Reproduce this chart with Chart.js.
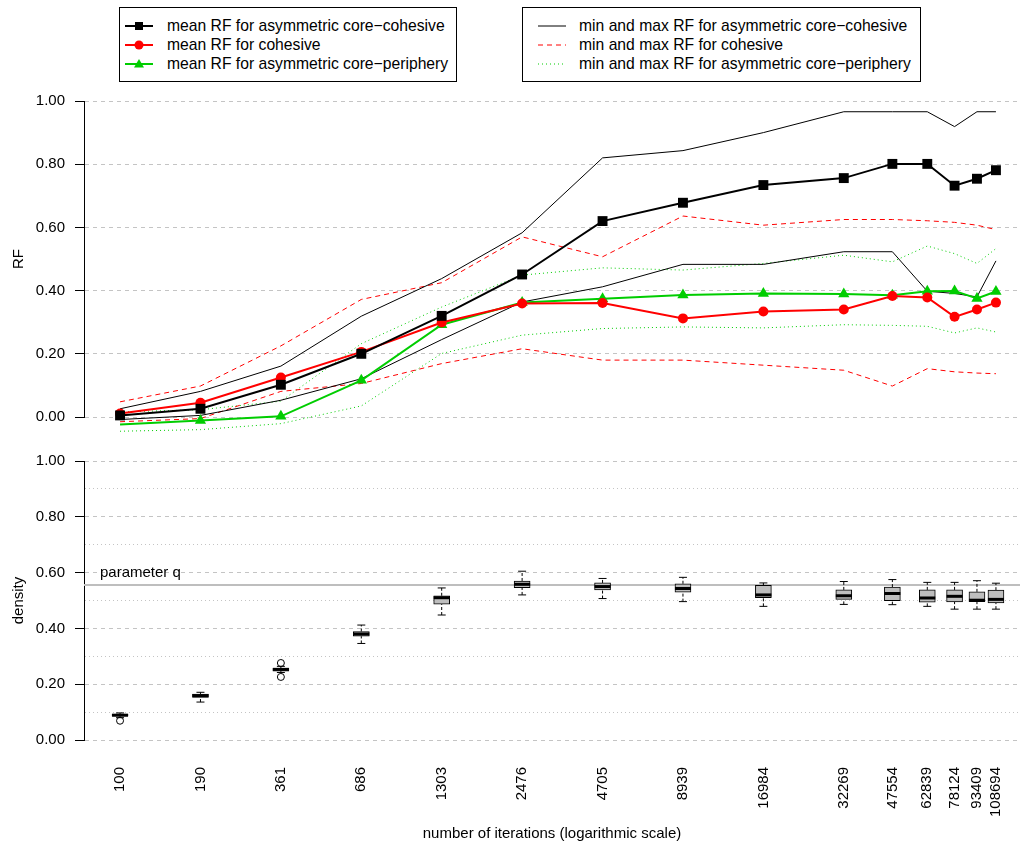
<!DOCTYPE html>
<html>
<head>
<meta charset="utf-8">
<script src="https://cdn.jsdelivr.net/npm/chart.js@4/dist/chart.umd.min.js"></script>
<style>
  body { margin: 0; background: #fff; }
  #wrap { position: relative; width: 1020px; height: 849px; overflow: hidden;
          font-family: "Liberation Sans", Arial, Helvetica, sans-serif; color: #000; }
  canvas { position: absolute; left: 0; }
  .lg { position: absolute; top: 7px; height: 75px; border: 1px solid #000; box-sizing: border-box; background: #fff; }
  .row { position: absolute; height: 18px; line-height: 18px; font-size: 15.7px; white-space: nowrap; }
  .sym { position: absolute; top: 0; width: 30px; height: 18px; }
</style>
</head>
<body>
<div id="wrap">
  <canvas id="top" width="1020" height="445" style="top:0"></canvas>
  <canvas id="bottom" width="1020" height="409" style="top:440px"></canvas>
  <div class="lg" id="lgLeft" style="left:119px;width:338px;"></div>
  <div class="lg" id="lgRight" style="left:522px;width:399px;"></div>
</div>
<script>
// ---------- data ----------
const iterations = [100, 190, 361, 686, 1303, 2476, 4705, 8939, 16984, 32269, 47554, 62839, 78124, 93409, 108694];

const meanCoreCohesive  = [0.005, 0.026, 0.102, 0.200, 0.320, 0.451, 0.620, 0.678, 0.734, 0.756, 0.801, 0.801, 0.732, 0.754, 0.781];
const meanCohesive      = [0.011, 0.045, 0.125, 0.206, 0.299, 0.359, 0.361, 0.312, 0.334, 0.340, 0.383, 0.378, 0.317, 0.340, 0.362];
const meanCorePeriphery = [-0.024, -0.011, 0.002, 0.116, 0.292, 0.362, 0.374, 0.386, 0.391, 0.389, 0.385, 0.398, 0.399, 0.375, 0.397];

const maxCoreCohesive  = [0.026, 0.081, 0.161, 0.319, 0.438, 0.583, 0.820, 0.843, 0.900, 0.966, 0.966, 0.966, 0.919, 0.966, 0.966];
const minCoreCohesive  = [-0.008, 0.005, 0.053, 0.121, 0.245, 0.364, 0.412, 0.483, 0.483, 0.523, 0.523, 0.398, 0.391, 0.380, 0.494];
const maxCohesive      = [0.048, 0.098, 0.225, 0.372, 0.425, 0.570, 0.507, 0.636, 0.607, 0.625, 0.625, 0.621, 0.616, 0.607, 0.593];
const minCohesive      = [-0.015, -0.005, 0.081, 0.106, 0.169, 0.216, 0.180, 0.180, 0.164, 0.148, 0.098, 0.153, 0.143, 0.139, 0.137];
const maxCorePeriphery = [0.016, 0.023, 0.050, 0.232, 0.348, 0.449, 0.472, 0.465, 0.486, 0.512, 0.491, 0.541, 0.517, 0.486, 0.533];
const minCorePeriphery = [-0.045, -0.040, -0.021, 0.035, 0.201, 0.259, 0.280, 0.285, 0.282, 0.292, 0.290, 0.287, 0.266, 0.282, 0.269];

// density boxplots
const densLow    = [0.080, 0.136, 0.242, 0.346, 0.448, 0.520, 0.507, 0.496, 0.479, 0.486, 0.485, 0.479, 0.469, 0.469, 0.469];
const densQ1     = [0.085, 0.153, 0.247, 0.372, 0.487, 0.546, 0.538, 0.530, 0.510, 0.504, 0.499, 0.494, 0.495, 0.496, 0.491];
const densMedian = [0.089, 0.159, 0.253, 0.380, 0.510, 0.558, 0.550, 0.543, 0.520, 0.517, 0.525, 0.509, 0.515, 0.501, 0.504];
const densQ3     = [0.092, 0.165, 0.258, 0.389, 0.517, 0.570, 0.563, 0.560, 0.554, 0.538, 0.548, 0.538, 0.538, 0.531, 0.537];
const densHigh   = [0.097, 0.171, 0.264, 0.412, 0.545, 0.605, 0.579, 0.583, 0.563, 0.568, 0.575, 0.565, 0.565, 0.571, 0.562];
const densOutlierIter  = [100, 361, 361];
const densOutlierValue = [0.069, 0.276, 0.226];
const parameterQ = 0.556;

const rfTicks = [0, 0.2, 0.4, 0.6, 0.8, 1.0];
const densityTicks = [0, 0.1, 0.2, 0.3, 0.4, 0.5, 0.6, 0.7, 0.8, 0.9, 1.0];
const xLimits = [75, 131700];

const labelsLeft = ['mean RF for asymmetric core\u2212cohesive', 'mean RF for cohesive', 'mean RF for asymmetric core\u2212periphery'];
const labelsRight = ['min and max RF for asymmetric core\u2212cohesive', 'min and max RF for cohesive', 'min and max RF for asymmetric core\u2212periphery'];

// ---------- styles ----------
const BLACK = '#000000', RED = '#FF0000', GREEN = '#00CD00';
const GRID = '#c4c4c4';
const FONT = "'Liberation Sans', Arial, Helvetica, sans-serif";
Chart.defaults.font.family = FONT;
Chart.defaults.font.size = 15;
Chart.defaults.color = '#000';

const pts = arr => iterations.map((x, i) => ({ x: x, y: arr[i] }));

function meanDs(label, arr, color, style, r) {
  return { type: 'line', label, data: pts(arr), borderColor: color, backgroundColor: color,
    borderWidth: 2, pointStyle: style, pointRadius: r, pointBorderWidth: 0, pointBackgroundColor: color,
    tension: 0, clip: false };
}
function rangeDs(label, arr, color, dash) {
  return { type: 'line', label, data: pts(arr), borderColor: color, borderWidth: 1,
    borderDash: dash, pointRadius: 0, tension: 0, clip: false };
}

function yAxisCfg(title, ticksArr, isMajor) {
  return {
    type: 'linear', min: 0, max: 1,
    afterBuildTicks: s => { s.ticks = ticksArr.map(v => ({ value: v })); },
    afterFit: s => { s.width = 84; s.paddingTop = 0; s.paddingBottom = 0; },
    ticks: { padding: 10, color: '#000', font: { size: 15 },
      callback: v => isMajor(v) ? v.toFixed(2) : '' },
    grid: { color: GRID, lineWidth: 1, drawTicks: true, tickLength: 9, tickWidth: 1,
      tickColor: ctx => (ctx.tick && isMajor(ctx.tick.value)) ? '#000' : 'rgba(0,0,0,0)' },
    border: { display: true, color: '#000', width: 1,
      dash: ctx => ctx.tick ? (isMajor(ctx.tick.value) ? [4, 4] : [1, 3]) : [] },
    title: { display: true, text: title, color: '#000', font: { size: 15 }, padding: { top: 10, bottom: 0 } }
  };
}
const isMajor = v => Math.abs(Math.round(v * 10) % 2) === 0;

// ---------- top chart ----------
new Chart(document.getElementById('top'), {
  type: 'line',
  data: { datasets: [
    meanDs(labelsLeft[0], meanCoreCohesive, BLACK, 'rect', 7),
    meanDs(labelsLeft[1], meanCohesive, RED, 'circle', 5),
    meanDs(labelsLeft[2], meanCorePeriphery, GREEN, 'triangle', 6.5),
    rangeDs(labelsRight[0], maxCoreCohesive, BLACK, []),
    rangeDs(labelsRight[0], minCoreCohesive, BLACK, []),
    rangeDs(labelsRight[1], maxCohesive, RED, [5, 4]),
    rangeDs(labelsRight[1], minCohesive, RED, [5, 4]),
    rangeDs(labelsRight[2], maxCorePeriphery, GREEN, [1, 3]),
    rangeDs(labelsRight[2], minCorePeriphery, GREEN, [1, 3])
  ]},
  options: {
    responsive: false, animation: false, events: [],
    layout: { autoPadding: false, padding: { top: 101, bottom: 28, left: 0, right: 0 } },
    plugins: { legend: { display: false }, tooltip: { enabled: false } },
    scales: {
      x: { type: 'logarithmic', min: xLimits[0], max: xLimits[1], bounds: 'data', offset: false, display: false },
      y: yAxisCfg('RF', rfTicks, () => true)
    }
  }
});

// ---------- bottom chart ----------
const qPlugin = {
  id: 'qline',
  beforeDatasetsDraw(chart) {
    const { ctx, chartArea, scales } = chart;
    const y = scales.y.getPixelForValue(parameterQ);
    ctx.save();
    ctx.strokeStyle = '#bebebe';
    ctx.lineWidth = 2;
    ctx.beginPath();
    ctx.moveTo(chartArea.left, y);
    ctx.lineTo(chartArea.right, y);
    ctx.stroke();
    ctx.fillStyle = '#000';
    ctx.font = '15px ' + FONT;
    ctx.textAlign = 'left';
    ctx.textBaseline = 'alphabetic';
    ctx.fillText('parameter q', chartArea.left + 16, y - 8);
    ctx.restore();
  }
};

const whiskerData = [];
iterations.forEach((x, i) => {
  whiskerData.push({ x, y: densLow[i] }, { x, y: densQ1[i] }, { x, y: null },
                   { x, y: densQ3[i] }, { x, y: densHigh[i] }, { x, y: null });
});
const capData = [];
iterations.forEach((x, i) => { capData.push({ x, y: densLow[i] }, { x, y: densHigh[i] }); });

new Chart(document.getElementById('bottom'), {
  type: 'line',
  data: { datasets: [
    { type: 'scatter', data: iterations.map((x, i) => ({ x, y: densMedian[i] })),
      pointStyle: 'line', pointRadius: 8, pointBorderWidth: 3, pointBorderColor: '#000', showLine: false, clip: false },
    { type: 'bar', data: iterations.map((x, i) => ({ x, y: [densQ1[i], densQ3[i]] })),
      backgroundColor: '#bebebe', borderColor: '#000', borderWidth: 1, barThickness: 16, grouped: false, borderSkipped: false },
    { type: 'scatter', data: capData, pointStyle: 'line', pointRadius: 4, pointBorderWidth: 1,
      pointBorderColor: '#000', showLine: false, clip: false },
    { type: 'line', data: whiskerData, borderColor: '#000', borderWidth: 1, borderDash: [3, 2],
      pointRadius: 0, spanGaps: false, tension: 0 },
    { type: 'scatter', data: densOutlierIter.map((x, i) => ({ x, y: densOutlierValue[i] })),
      pointStyle: 'circle', pointRadius: 3.5, pointBorderWidth: 1, pointBorderColor: '#000',
      pointBackgroundColor: 'rgba(0,0,0,0)', showLine: false, clip: false }
  ]},
  options: {
    responsive: false, animation: false, events: [],
    layout: { autoPadding: false, padding: { top: 21, bottom: 0, left: 0, right: 0 } },
    plugins: { legend: { display: false }, tooltip: { enabled: false } },
    scales: {
      x: { type: 'logarithmic', min: xLimits[0], max: xLimits[1], bounds: 'data', offset: false,
        afterBuildTicks: s => { s.ticks = iterations.map(v => ({ value: v })); },
        afterFit: s => { s.height = 109; s.paddingLeft = 0; s.paddingRight = 0; },
        ticks: { autoSkip: false, minRotation: 90, maxRotation: 90, padding: 27, color: '#000',
          font: { size: 15 }, callback: v => String(v) },
        grid: { display: false, drawTicks: false },
        border: { display: false },
        title: { display: true, text: 'number of iterations (logarithmic scale)', color: '#000',
          font: { size: 15 }, padding: { top: 0, bottom: 6 } } },
      y: yAxisCfg('density', densityTicks, isMajor)
    }
  },
  plugins: [qPlugin]
});

// ---------- legends (HTML) ----------
function legendRow(box, text, symSvg, symLeft, textLeft, top) {
  const s = document.createElement('div');
  s.className = 'sym'; s.style.left = symLeft + 'px'; s.style.top = top + 'px';
  s.innerHTML = symSvg;
  const t = document.createElement('div');
  t.className = 'row'; t.style.left = textLeft + 'px'; t.style.top = top + 'px';
  t.textContent = text;
  box.appendChild(s); box.appendChild(t);
}
const sv = inner => '<svg width="30" height="18" xmlns="http://www.w3.org/2000/svg">' + inner + '</svg>';
const L = document.getElementById('lgLeft'), R = document.getElementById('lgRight');
const rowsTop = [9, 28, 47];
legendRow(L, labelsLeft[0], sv('<line x1="1" y1="9" x2="29" y2="9" stroke="#000" stroke-width="2"/><rect x="11" y="5" width="8" height="8" fill="#000"/>'), 4, 47, rowsTop[0]);
legendRow(L, labelsLeft[1], sv('<line x1="1" y1="9" x2="29" y2="9" stroke="#f00" stroke-width="2"/><circle cx="15" cy="9" r="4.5" fill="#f00"/>'), 4, 47, rowsTop[1]);
legendRow(L, labelsLeft[2], sv('<line x1="1" y1="9" x2="29" y2="9" stroke="#00CD00" stroke-width="2"/><polygon points="15,4 20,12.5 10,12.5" fill="#00CD00"/>'), 4, 47, rowsTop[2]);
legendRow(R, labelsRight[0], sv('<line x1="1" y1="9" x2="29" y2="9" stroke="#000" stroke-width="1"/>'), 14, 56, rowsTop[0]);
legendRow(R, labelsRight[1], sv('<line x1="1" y1="9" x2="29" y2="9" stroke="#f00" stroke-width="1" stroke-dasharray="5,4"/>'), 14, 56, rowsTop[1]);
legendRow(R, labelsRight[2], sv('<line x1="1" y1="9" x2="29" y2="9" stroke="#00CD00" stroke-width="1" stroke-dasharray="1,3"/>'), 14, 56, rowsTop[2]);
</script>
</body>
</html>
